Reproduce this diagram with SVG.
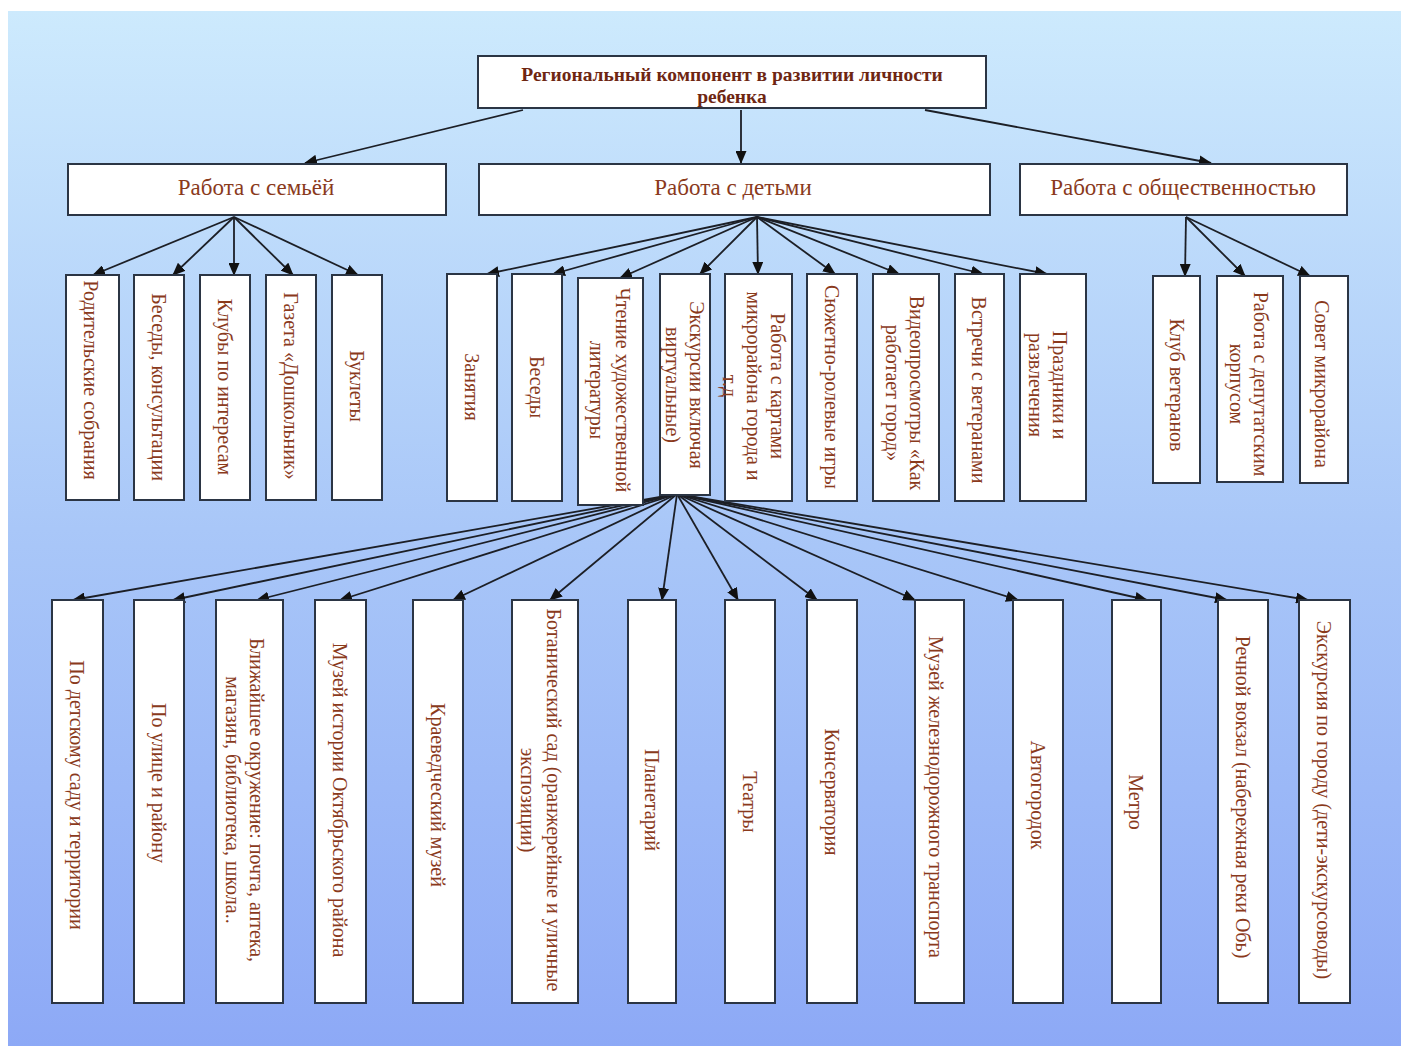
<svg xmlns="http://www.w3.org/2000/svg" width="1401" height="1046" viewBox="0 0 1401 1046">
<defs>
<linearGradient id="bg" x1="0" y1="0" x2="0" y2="1">
<stop offset="0" stop-color="#cdeafd"/>
<stop offset="0.5" stop-color="#a9c7f8"/>
<stop offset="1" stop-color="#8da9f6"/>
</linearGradient>
<marker id="ah" markerWidth="13" markerHeight="11" refX="12" refY="5.5" orient="auto" markerUnits="userSpaceOnUse">
<path d="M0,0 L13,5.5 L0,11 Z" fill="#111"/>
</marker>
<style>
.box{fill:#fff;stroke:#2b3544;stroke-width:2}
.c{stroke:#1c1f26;stroke-width:1.8;fill:none;marker-end:url(#ah)}
.t{font-family:"Liberation Serif","Times New Roman",serif;fill:#8a3a1c;text-anchor:middle;dominant-baseline:central}
.title{font-size:19.5px;font-weight:bold;fill:#6e2612}
.l2{font-size:23px}
.v{font-size:20px}
</style>
</defs>
<rect x="0" y="0" width="1401" height="1046" fill="#ffffff"/>
<rect x="8" y="11" width="1393" height="1035" fill="url(#bg)"/>

<g id="connectors">
<line class="c" x1="523" y1="110" x2="305" y2="163"/>
<line class="c" x1="741" y1="110" x2="741" y2="163"/>
<line class="c" x1="925" y1="110" x2="1211" y2="163"/>
<line class="c" x1="234" y1="217" x2="93" y2="275"/>
<line class="c" x1="234" y1="217" x2="173" y2="275"/>
<line class="c" x1="234" y1="217" x2="234" y2="275"/>
<line class="c" x1="234" y1="217" x2="293" y2="275"/>
<line class="c" x1="234" y1="217" x2="358" y2="275"/>
<line class="c" x1="757" y1="217" x2="487" y2="274"/>
<line class="c" x1="757" y1="217" x2="553" y2="274"/>
<line class="c" x1="757" y1="217" x2="620" y2="278"/>
<line class="c" x1="757" y1="217" x2="700" y2="274"/>
<line class="c" x1="757" y1="217" x2="758" y2="274"/>
<line class="c" x1="757" y1="217" x2="835" y2="274"/>
<line class="c" x1="757" y1="217" x2="899" y2="274"/>
<line class="c" x1="757" y1="217" x2="983" y2="274"/>
<line class="c" x1="757" y1="217" x2="1047" y2="274"/>
<line class="c" x1="1186" y1="217" x2="1185" y2="276"/>
<line class="c" x1="1186" y1="217" x2="1245" y2="276"/>
<line class="c" x1="1186" y1="217" x2="1310" y2="276"/>
<line class="c" x1="677" y1="494" x2="73" y2="600"/>
<line class="c" x1="677" y1="494" x2="173" y2="600"/>
<line class="c" x1="677" y1="494" x2="257" y2="600"/>
<line class="c" x1="677" y1="494" x2="340" y2="600"/>
<line class="c" x1="677" y1="494" x2="453" y2="600"/>
<line class="c" x1="677" y1="494" x2="550" y2="600"/>
<line class="c" x1="677" y1="494" x2="662" y2="600"/>
<line class="c" x1="677" y1="494" x2="738" y2="600"/>
<line class="c" x1="677" y1="494" x2="817" y2="600"/>
<line class="c" x1="677" y1="494" x2="915" y2="600"/>
<line class="c" x1="677" y1="494" x2="1018" y2="600"/>
<line class="c" x1="677" y1="494" x2="1147" y2="600"/>
<line class="c" x1="677" y1="494" x2="1227" y2="600"/>
<line class="c" x1="677" y1="494" x2="1308" y2="600"/>
</g>

<g id="root">
<rect class="box" x="478" y="56" width="508" height="52"/>
<text class="t title" x="732" y="74">Региональный компонент в развитии личности</text>
<text class="t title" x="732" y="96">ребенка</text>
</g>

<g id="family">
<rect class="box" x="68" y="164" width="378" height="51"/>
<text class="t l2" x="256" y="187">Работа с семьёй</text>
</g>
<g id="children">
<rect class="box" x="479" y="164" width="511" height="51"/>
<text class="t l2" x="733" y="187">Работа с детьми</text>
</g>
<g id="public">
<rect class="box" x="1020" y="164" width="327" height="51"/>
<text class="t l2" x="1183" y="187">Работа с общественностью</text>
</g>

<g id="f1"><rect class="box" x="66" y="275" width="53" height="225"/>
<g transform="translate(91,380) rotate(90)"><text class="t v" x="0" y="0">Родительские собрания</text></g></g>
<g id="f2"><rect class="box" x="134" y="275" width="50" height="225"/>
<g transform="translate(159,387) rotate(90)"><text class="t v" x="0" y="0">Беседы, консультации</text></g></g>
<g id="f3"><rect class="box" x="200" y="275" width="50" height="225"/>
<g transform="translate(225,387) rotate(90)"><text class="t v" x="0" y="0">Клубы по интересам</text></g></g>
<g id="f4"><rect class="box" x="266" y="275" width="50" height="225"/>
<g transform="translate(291,386) rotate(90)"><text class="t v" x="0" y="0">Газета «Дошкольник»</text></g></g>
<g id="f5"><rect class="box" x="332" y="275" width="50" height="225"/>
<g transform="translate(357,386) rotate(90)"><text class="t v" x="0" y="0">Буклеты</text></g></g>

<g id="c1"><rect class="box" x="447" y="274" width="50" height="227"/>
<g transform="translate(472,387) rotate(90)"><text class="t v" x="0" y="0">Занятия</text></g></g>
<g id="c2"><rect class="box" x="512" y="274" width="50" height="227"/>
<g transform="translate(537,387) rotate(90)"><text class="t v" x="0" y="0">Беседы</text></g></g>
<g id="c3"><rect class="box" x="578" y="278" width="65" height="227"/>
<g transform="translate(610,390) rotate(90)"><text class="t v" x="0" y="-13">Чтение художественной</text><text class="t v" x="0" y="13">литературы</text></g></g>
<g id="c4"><rect class="box" x="660" y="274" width="50" height="221"/>
<g transform="translate(685,385) rotate(90)"><text class="t v" x="0" y="-12">Экскурсии включая</text><text class="t v" x="0" y="12">виртуальные)</text></g></g>
<g id="c5"><rect class="box" x="725" y="274" width="67" height="227"/>
<g transform="translate(754,386) rotate(90)"><text class="t v" x="0" y="-24">Работа с картами</text><text class="t v" x="0" y="0">микрорайона города и</text><text class="t v" x="0" y="24">т.д</text></g></g>
<g id="c6"><rect class="box" x="807" y="274" width="50" height="227"/>
<g transform="translate(832,387) rotate(90)"><text class="t v" x="0" y="0">Сюжетно-ролевые игры</text></g></g>
<g id="c7"><rect class="box" x="873" y="274" width="66" height="227"/>
<g transform="translate(905,393) rotate(90)"><text class="t v" x="0" y="-12">Видеопросмотры «Как</text><text class="t v" x="0" y="12">работает город»</text></g></g>
<g id="c8"><rect class="box" x="955" y="274" width="49" height="227"/>
<g transform="translate(979,390) rotate(90)"><text class="t v" x="0" y="0">Встречи с ветеранами</text></g></g>
<g id="c9"><rect class="box" x="1020" y="274" width="66" height="227"/>
<g transform="translate(1048,385) rotate(90)"><text class="t v" x="0" y="-12">Праздники и</text><text class="t v" x="0" y="12">развлечения</text></g></g>

<g id="p1"><rect class="box" x="1153" y="276" width="47" height="207"/>
<g transform="translate(1177,385) rotate(90)"><text class="t v" x="0" y="0">Клуб ветеранов</text></g></g>
<g id="p2"><rect class="box" x="1217" y="276" width="66" height="206"/>
<g transform="translate(1249,384) rotate(90)"><text class="t v" x="0" y="-12">Работа с депутатским</text><text class="t v" x="0" y="12">корпусом</text></g></g>
<g id="p3"><rect class="box" x="1300" y="276" width="48" height="207"/>
<g transform="translate(1322,384) rotate(90)"><text class="t v" x="0" y="0">Совет микрорайона</text></g></g>

<g id="b1"><rect class="box" x="52" y="600" width="51" height="403"/>
<g transform="translate(77,795) rotate(90)"><text class="t v" x="0" y="0">По детскому саду и территории</text></g></g>
<g id="b2"><rect class="box" x="134" y="600" width="50" height="403"/>
<g transform="translate(159,783) rotate(90)"><text class="t v" x="0" y="0">По улице и району</text></g></g>
<g id="b3"><rect class="box" x="216" y="600" width="67" height="403"/>
<g transform="translate(245,800) rotate(90)"><text class="t v" x="0" y="-12">Ближайшее окружение: почта, аптека,</text><text class="t v" x="0" y="12">магазин, библиотека, школа..</text></g></g>
<g id="b4"><rect class="box" x="315" y="600" width="51" height="403"/>
<g transform="translate(340,800) rotate(90)"><text class="t v" x="0" y="0">Музей истории  Октябрьского района</text></g></g>
<g id="b5"><rect class="box" x="413" y="600" width="50" height="403"/>
<g transform="translate(438,795) rotate(90)"><text class="t v" x="0" y="0">Краеведческий музей</text></g></g>
<g id="b6"><rect class="box" x="512" y="600" width="66" height="403"/>
<g transform="translate(541,800) rotate(90)"><text class="t v" x="0" y="-13">Ботанический сад (оранжерейные и уличные</text><text class="t v" x="0" y="13">экспозиции)</text></g></g>
<g id="b7"><rect class="box" x="628" y="600" width="48" height="403"/>
<g transform="translate(652,800) rotate(90)"><text class="t v" x="0" y="0">Планетарий</text></g></g>
<g id="b8"><rect class="box" x="725" y="600" width="50" height="403"/>
<g transform="translate(750,802) rotate(90)"><text class="t v" x="0" y="0">Театры</text></g></g>
<g id="b9"><rect class="box" x="807" y="600" width="50" height="403"/>
<g transform="translate(832,792) rotate(90)"><text class="t v" x="0" y="0">Консерватория</text></g></g>
<g id="b10"><rect class="box" x="915" y="600" width="49" height="403"/>
<g transform="translate(936,797) rotate(90)"><text class="t v" x="0" y="0">Музей железнодорожного транспорта</text></g></g>
<g id="b11"><rect class="box" x="1013" y="600" width="50" height="403"/>
<g transform="translate(1038,795) rotate(90)"><text class="t v" x="0" y="0">Автогородок</text></g></g>
<g id="b12"><rect class="box" x="1112" y="600" width="49" height="403"/>
<g transform="translate(1136,802) rotate(90)"><text class="t v" x="0" y="0">Метро</text></g></g>
<g id="b13"><rect class="box" x="1218" y="600" width="50" height="403"/>
<g transform="translate(1243,797) rotate(90)"><text class="t v" x="0" y="0">Речной вокзал (набережная реки Обь)</text></g></g>
<g id="b14"><rect class="box" x="1299" y="600" width="51" height="403"/>
<g transform="translate(1324,800) rotate(90)"><text class="t v" x="0" y="0">Экскурсия по городу (дети-экскурсоводы)</text></g></g>
</svg>
